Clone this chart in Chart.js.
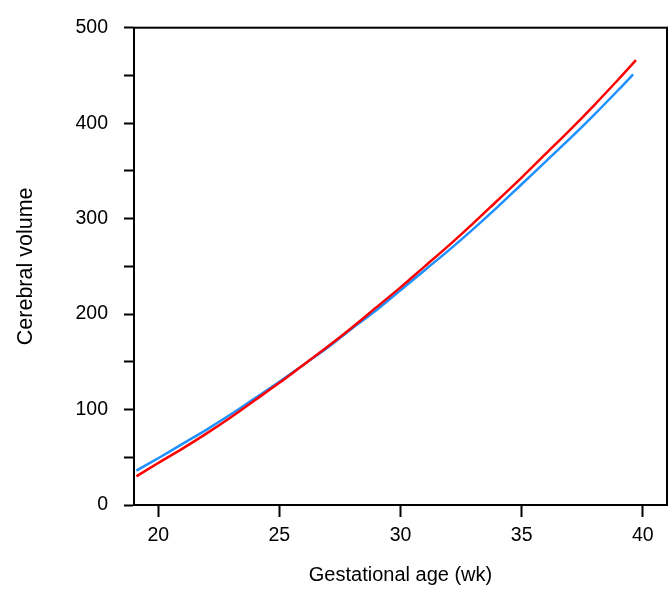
<!DOCTYPE html>
<html>
<head>
<meta charset="utf-8">
<script src="https://cdn.jsdelivr.net/npm/chart.js@4"></script>
<style>
  html, body { margin: 0; padding: 0; background: #fff; }
  #wrap { width: 668px; height: 589px; position: relative; }
</style>
</head>
<body>
<div id="wrap"><canvas id="c" width="668" height="589"></canvas></div>
<script>
// Gestational age (weeks) and cerebral volume
const weeksRed = [19.1, 20, 21, 22, 23, 24, 25, 26, 27, 28, 29, 30, 31, 32, 33, 34, 35, 36, 37, 38, 39, 39.72];
const volumeRed = [30, 44, 59, 75, 92, 110, 128, 147, 166, 186, 207, 228, 250, 272, 295, 319, 343, 368, 393, 419, 446, 466];
const weeksBlue = [19.1, 20, 21, 22, 23, 24, 25, 26, 27, 28, 29, 30, 31, 32, 33, 34, 35, 36, 37, 38, 39, 39.6];
const volumeBlue = [36, 49, 64, 79, 95, 112, 129, 147, 165, 185, 204, 225, 246, 267, 289, 312, 336, 360, 384, 409, 435, 451];
const xTicks = [20, 25, 30, 35, 40];
const yTickStep = 50;
const yLabelStep = 100;
const xTitle = 'Gestational age (wk)';
const yTitle = 'Cerebral volume';

const toPoints = (xs, ys) => xs.map((x, i) => ({ x: x, y: ys[i] }));

const boxPlugin = {
  id: 'box',
  afterDraw(chart) {
    const { ctx, chartArea: a } = chart;
    ctx.save();
    ctx.strokeStyle = '#000';
    ctx.lineWidth = 2;
    ctx.strokeRect(a.left, a.top, a.right - a.left, a.bottom - a.top);
    ctx.restore();
  }
};

new Chart(document.getElementById('c'), {
  type: 'line',
  data: {
    datasets: [
      { data: toPoints(weeksRed, volumeRed), borderColor: '#FF0000', borderWidth: 2.5, pointRadius: 0, tension: 0.3, fill: false },
      { data: toPoints(weeksBlue, volumeBlue), borderColor: '#1E90FF', borderWidth: 2.5, pointRadius: 0, tension: 0.3, fill: false }
    ]
  },
  options: {
    responsive: false,
    animation: false,
    layout: { padding: { top: 23, right: 1, left: 0, bottom: 0 } },
    plugins: { legend: { display: false }, tooltip: { enabled: false } },
    scales: {
      x: {
        type: 'linear',
        min: 19, max: 41,
        afterBuildTicks: (s) => { s.ticks = xTicks.map(v => ({ value: v })); },
        afterFit: (s) => { s.height = 84; },
        grid: { drawOnChartArea: false, tickLength: 12, tickWidth: 2, tickColor: '#000' },
        border: { display: true, color: '#000', width: 2 },
        ticks: { color: '#000', padding: 7, maxRotation: 0, autoSkip: false, font: { family: 'Liberation Sans', size: 19.5 } },
        title: { display: true, text: xTitle, color: '#000', padding: { top: 0, bottom: 2 }, font: { family: 'Liberation Sans', size: 20 } }
      },
      y: {
        type: 'linear',
        min: 0, max: 500,
        afterFit: (s) => { s.width = 134; },
        grid: { drawOnChartArea: false, tickLength: 10, tickWidth: 2, tickColor: '#000' },
        border: { display: true, color: '#000', width: 2 },
        ticks: {
          stepSize: yTickStep, autoSkip: false, color: '#000', padding: 16,
          font: { family: 'Liberation Sans', size: 19.5 },
          callback: (v) => (v % yLabelStep === 0 ? String(v) : '')
        },
        title: { display: true, text: yTitle, color: '#000', padding: { top: 13, bottom: 0 }, font: { family: 'Liberation Sans', size: 21.5 } }
      }
    }
  },
  plugins: [boxPlugin]
});
</script>
</body>
</html>
